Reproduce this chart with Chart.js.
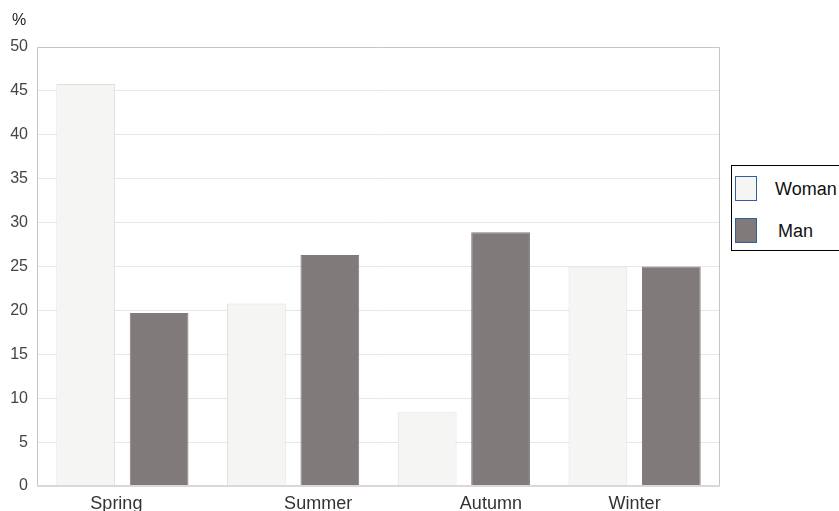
<!DOCTYPE html>
<html>
<head>
<meta charset="utf-8">
<script src="https://cdn.jsdelivr.net/npm/chart.js@4/dist/chart.umd.min.js"></script>
<style>
  html, body { margin: 0; padding: 0; background: #fff; overflow: hidden; }
  #wrap { position: relative; width: 839px; height: 511px; overflow: hidden; }
  #chart { position: absolute; left: 0; top: 0; }
  #legend {
    position: absolute; left: 731px; top: 165px; width: 112px; height: 86px;
    border: 1px solid #000; box-sizing: border-box; background: #fff;
    font-family: "Liberation Sans", Arial, sans-serif; font-size: 18px; color: #111;
  }
  .item { position: absolute; left: 3px; height: 26px; line-height: 26px; }
  .sw { position: absolute; left: 0; top: 0; width: 20px; height: 23px; border: 1.5px solid #2f5f9e; }
  .lbl { position: absolute; white-space: nowrap; }
</style>
</head>
<body>
<div id="wrap">
  <canvas id="chart" width="839" height="516"></canvas>
  <div id="legend"></div>
</div>
<script>
const seasons = ['Spring', 'Summer', 'Autumn', 'Winter'];
const woman = [45.8, 20.8, 8.4, 25];
const man = [19.7, 26.3, 28.9, 25];
const yTicks = [0, 5, 10, 15, 20, 25, 30, 35, 40, 45, 50];

const seriesNames = ['Woman', 'Man'];
const fills = ['#f5f5f3', '#807a7a'];
const borders = ['#e2dede', '#807a7a'];
// the original's category labels sit a little off the group centres
const labelShift = [-6, 25, 27, 0];

// html legend with a black frame
const legend = document.getElementById('legend');
seriesNames.forEach((name, i) => {
  const it = document.createElement('div');
  it.className = 'item';
  it.style.top = (i === 0 ? 10 : 52) + 'px';
  it.innerHTML = '<span class="sw" style="background:' + fills[i] + '"></span>' +
    '<span class="lbl" style="left:' + (i === 0 ? 40 : 43) + 'px">' + name + '</span>';
  legend.appendChild(it);
});

const frame = {
  id: 'frame',
  afterDatasetsDraw(chart) {
    const a = chart.chartArea, c = chart.ctx;
    const x = chart.scales.x;
    c.save();
    c.strokeStyle = '#c9c4c4';
    c.lineWidth = 1;
    c.beginPath();
    c.moveTo(a.left + 0.5, a.bottom);
    c.lineTo(a.left + 0.5, a.top + 0.5);
    c.lineTo(a.right - 0.5, a.top + 0.5);
    c.lineTo(a.right - 0.5, a.bottom);
    c.stroke();
    c.strokeStyle = '#dcd8d8';
    c.lineWidth = 2;
    c.beginPath();
    c.moveTo(a.left, a.bottom);
    c.lineTo(a.right, a.bottom);
    c.stroke();

    // unit label and category labels
    c.fillStyle = '#222';
    c.font = '16px "Liberation Sans", Arial, sans-serif';
    c.textAlign = 'left';
    c.textBaseline = 'alphabetic';
    c.fillText('%', 12, 25);
    c.fillStyle = '#333';
    c.font = '18px "Liberation Sans", Arial, sans-serif';
    c.textAlign = 'center';
    seasons.forEach((s, i) => {
      c.fillText(s, x.getPixelForValue(i) + labelShift[i], a.bottom + 23);
    });
    c.restore();
  }
};

Chart.defaults.font.family = '"Liberation Sans", Arial, sans-serif';

new Chart(document.getElementById('chart'), {
  type: 'bar',
  data: {
    labels: seasons,
    datasets: [woman, man].map((vals, i) => ({
      label: seriesNames[i],
      data: vals,
      backgroundColor: fills[i],
      borderColor: borders[i],
      borderWidth: 1,
      categoryPercentage: 0.86,
      barPercentage: 0.8
    }))
  },
  options: {
    responsive: false,
    animation: false,
    layout: { padding: { left: 0, right: 119, top: 47, bottom: 0 } },
    plugins: {
      legend: { display: false },
      tooltip: { enabled: false }
    },
    scales: {
      x: {
        grid: { display: false, drawTicks: false },
        border: { display: false },
        ticks: { display: false },
        afterFit(s) { s.height = 30; }
      },
      y: {
        min: 0,
        max: 50,
        afterBuildTicks(s) { s.ticks = yTicks.map(v => ({ value: v })); },
        grid: { color: '#e8e6e6', drawTicks: false },
        border: { display: false },
        ticks: { color: '#444', font: { size: 16 }, padding: 9 },
        afterFit(s) { s.width = 37; }
      }
    }
  },
  plugins: [frame]
});
</script>
</body>
</html>
